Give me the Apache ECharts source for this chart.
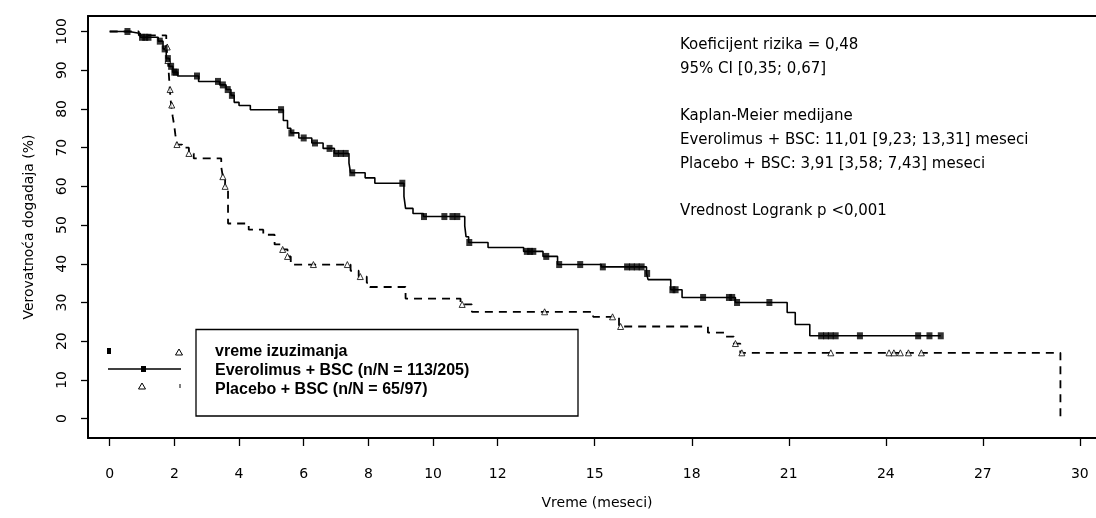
<!DOCTYPE html>
<html>
<head>
<meta charset="utf-8">
<script src="https://cdn.jsdelivr.net/npm/echarts@6.0.0/dist/echarts.min.js"></script>
<style>
  html, body { margin: 0; padding: 0; background: #fff; }
  #main { width: 1096px; height: 518px; }
</style>
</head>
<body>
<div id="main"></div>
<script>
// tick labels
const xTicks = [0, 2, 4, 6, 8, 10, 12, 15, 18, 21, 24, 27, 30];
const yTicks = [0, 10, 20, 30, 40, 50, 60, 70, 80, 90, 100];

// Everolimus + BSC: step times (months) and survival (%) after each step
const everoTime = [0, 0.6, 0.95, 1.5, 1.65, 1.75, 1.85, 1.95, 2.1, 2.75,
  3.4, 3.6, 3.75, 3.85, 4.0, 4.35, 5.37, 5.5, 5.6, 5.85,
  6.25, 6.6, 6.95, 7.4, 7.45, 7.9, 8.2, 9.1, 9.15, 9.38,
  9.7, 10.98, 11.02, 11.1, 11.7, 12.8, 13.4, 13.85, 15.2, 16.6,
  16.65, 17.35, 17.7, 19.35, 20.95, 21.2, 21.65, 25.7];
const everoSurv = [100, 99.5, 98.5, 97.5, 95.5, 93, 91, 89.5, 88.5, 87.1,
  86.2, 85.0, 83.5, 81.7, 80.9, 79.8, 77, 75, 73.8, 72.5,
  71.2, 69.8, 68.5, 66, 63.5, 62.2, 60.8, 57.4, 54.3, 53,
  52.2, 49.8, 47, 45.5, 44.2, 43.2, 41.9, 39.8, 39.2, 37.5,
  35.9, 33.3, 31.3, 30.0, 27.4, 24.3, 21.4, 21.4];
// Everolimus censoring times (months)
const everoCens = [0.55, 1.0, 1.1, 1.2, 1.55, 1.7, 1.8, 1.9, 2.0, 2.05,
  2.7, 3.35, 3.5, 3.65, 3.78, 5.3, 5.62, 6.0, 6.35, 6.8,
  7.0, 7.15, 7.3, 7.5, 9.05, 9.72, 10.35, 10.6, 10.75, 11.12,
  12.9, 13.0, 13.1, 13.5, 13.9, 14.55, 15.25, 16.0, 16.15, 16.3,
  16.45, 16.62, 17.4, 17.5, 18.35, 19.15, 19.25, 19.4, 20.4, 22.0,
  22.15, 22.3, 22.45, 23.2, 25.0, 25.35, 25.7];

// Placebo + BSC
const placTime = [0, 0.9, 1.75, 1.8, 1.83, 1.86, 1.9, 1.95, 2.0, 2.03,
  2.08, 2.24, 2.45, 2.6, 3.45, 3.5, 3.57, 3.66, 4.3, 4.75,
  5.1, 5.35, 5.5, 5.6, 7.45, 7.7, 7.95, 8.05, 9.15, 10.85,
  11.2, 14.95, 15.75, 18.5, 19.0, 19.3, 19.5, 29.4, 29.4];
const placSurv = [100, 99, 96, 92.5, 89, 85, 81, 78, 75.5, 73.4,
  70.8, 70.0, 68.5, 67.2, 65, 62.5, 60, 50.4, 48.8, 47.5,
  45, 43.7, 41.9, 39.8, 38.2, 36.7, 35.1, 34.0, 31.0, 29.5,
  27.6, 26.3, 23.8, 22.2, 21.2, 19.4, 17.0, 17.0, 0];
const placCens = [1.78, 1.8, 1.87, 1.92, 2.08, 2.45, 3.5, 3.57, 5.35, 5.5,
  6.3, 7.35, 7.75, 10.9, 13.45, 15.55, 15.8, 19.35, 19.55, 22.3,
  24.1, 24.25, 24.45, 24.7, 25.1];

const notes = [
  'Koeficijent rizika = 0,48',
  '95% CI [0,35; 0,67]',
  '',
  'Kaplan-Meier medijane',
  'Everolimus + BSC: 11,01 [9,23; 13,31] meseci',
  'Placebo + BSC: 3,91 [3,58; 7,43] meseci',
  '',
  'Vrednost Logrank p <0,001'
];
const legendLines = [
  'vreme izuzimanja',
  'Everolimus + BSC (n/N = 113/205)',
  'Placebo + BSC (n/N = 65/97)'
];

const pairs = (t, s) => t.map((v, i) => [v, s[i]]);
// value of the step curve at time t (used to place censor marks on the curve)
function survivalAt(times, surv, t) {
  let s = surv[0];
  for (let i = 0; i < times.length; i++) {
    if (times[i] <= t) s = surv[i];
    else break;
  }
  return s;
}
const everoMarks = everoCens.map(t => [t, survivalAt(everoTime, everoSurv, t)]);
const placMarks = placCens.map(t => [t, survivalAt(placTime, placSurv, t)]);

const FONT = 'DejaVu Sans';
const chart = echarts.init(document.getElementById('main'));

const graphics = [];
notes.forEach((txt, i) => {
  if (!txt) return;
  graphics.push({
    type: 'text', left: 680, top: 38 + i * 23.7,
    style: { text: txt, font: '15px "' + FONT + '"', fill: '#000' }
  });
});
graphics.push({
  type: 'rect', shape: { x: 196, y: 329.5, width: 382, height: 86.5 },
  style: { fill: '#fff', stroke: '#000', lineWidth: 1.3 }, z: 10
});
legendLines.forEach((txt, i) => {
  graphics.push({
    type: 'text', left: 215, top: 344 + i * 18.7, z: 11,
    style: { text: txt, font: 'bold 16px "Liberation Sans"', fill: '#000' }
  });
});
// little key of markers left of the box
graphics.push(
  { type: 'rect', shape: { x: 107, y: 348, width: 4, height: 6 }, style: { fill: '#000' } },
  { type: 'polygon', shape: { points: [[179, 349], [182.5, 355], [175.5, 355]] }, style: { fill: '#fff', stroke: '#000', lineWidth: 1 } },
  { type: 'line', shape: { x1: 108, y1: 369, x2: 181, y2: 369 }, style: { stroke: '#000', lineWidth: 1.5 } },
  { type: 'rect', shape: { x: 141, y: 366, width: 5, height: 6 }, style: { fill: '#000' } },
  { type: 'polygon', shape: { points: [[142, 383], [145.5, 389], [138.5, 389]] }, style: { fill: '#fff', stroke: '#000', lineWidth: 1 } },
  { type: 'line', shape: { x1: 180, y1: 384, x2: 180, y2: 388 }, style: { stroke: '#000', lineWidth: 1 } }
);

const option = {
  animation: false,
  backgroundColor: '#fff',
  textStyle: { fontFamily: FONT },
  grid: { left: 88, top: 16, right: 0, bottom: 80 },
  xAxis: [
    {
      type: 'value', min: -0.67, max: 30.5,
      name: 'Vreme (meseci)', nameLocation: 'middle', nameGap: 58,
      nameTextStyle: { fontSize: 14, color: '#000', fontFamily: FONT, padding: [0, 0, 0, 10] },
      axisLine: { show: true, onZero: false, lineStyle: { color: '#000', width: 2 } },
      axisTick: { show: true, length: 8, lineStyle: { color: '#000', width: 1.3 }, customValues: xTicks },
      axisLabel: { color: '#000', fontSize: 14, margin: 29, fontFamily: FONT, customValues: xTicks },
      splitLine: { show: false }
    },
    {
      // top frame line
      type: 'value', position: 'top', min: -0.67, max: 30.5,
      axisLine: { show: true, onZero: false, lineStyle: { color: '#000', width: 2 } },
      axisTick: { show: false }, axisLabel: { show: false }, splitLine: { show: false }
    }
  ],
  yAxis: {
    type: 'value', min: -5, max: 104,
    name: 'Verovatnoća dogadaja (%)', nameLocation: 'middle', nameGap: 52, nameRotate: 90,
    nameTextStyle: { fontSize: 14, color: '#000', fontFamily: FONT },
    axisLine: { show: true, onZero: false, lineStyle: { color: '#000', width: 2 } },
    axisTick: { show: true, length: 7, lineStyle: { color: '#000', width: 1.3 }, customValues: yTicks },
    axisLabel: { color: '#000', fontSize: 14, rotate: 90, margin: 19, fontFamily: FONT, customValues: yTicks },
    splitLine: { show: false }
  },
  graphic: graphics,
  series: [
    {
      name: 'Everolimus + BSC', type: 'line', step: 'end', showSymbol: false, symbol: 'none',
      data: pairs(everoTime, everoSurv),
      lineStyle: { color: '#000', width: 1.6 }, z: 3
    },
    {
      name: 'Placebo + BSC', type: 'line', step: 'end', showSymbol: false, symbol: 'none',
      data: pairs(placTime, placSurv),
      lineStyle: { color: '#000', width: 1.8, type: [8, 6] }, z: 2
    },
    {
      name: 'Everolimus cens', type: 'scatter', data: everoMarks,
      symbol: 'rect', symbolSize: [6, 7],
      itemStyle: { color: '#000' }, z: 5
    },
    {
      name: 'Placebo cens', type: 'scatter', data: placMarks,
      symbol: 'triangle', symbolSize: 6,
      itemStyle: { color: '#fff', borderColor: '#000', borderWidth: 1 }, z: 4
    }
  ]
};
chart.setOption(option);
</script>
</body>
</html>
